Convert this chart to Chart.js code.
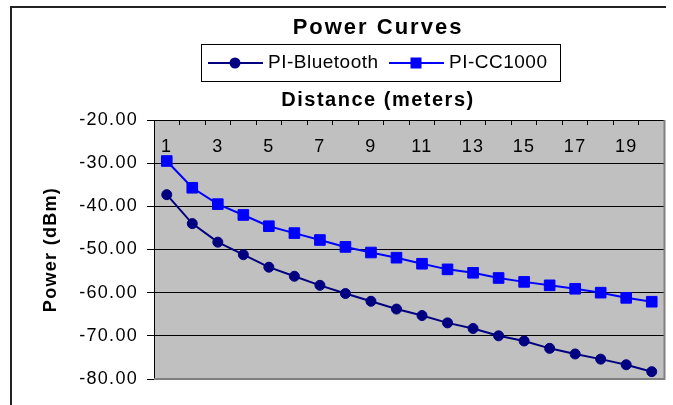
<!DOCTYPE html>
<html lang="en">
<head>
    <meta charset="UTF-8">
    <title>Power Curves</title>
<script src="https://cdn.jsdelivr.net/npm/chart.js@4.4.0/dist/chart.umd.min.js"></script>
<style>
    body { margin: 0; background: #fff; font-family: "Liberation Sans", Arial, sans-serif; }
    #wrap { position: relative; width: 673px; height: 405px; overflow: hidden; }
    #frame { position: absolute; left: 10px; top: 6px; width: 654px; height: 420px;
             border-left: 2px solid #222; border-top: 2px solid #222; }
    .txt { position: absolute; white-space: nowrap; color: #000; }
    #title { left: 378px; top: 16px; transform: translateX(-50%); font-size: 22px; line-height: 22px;
             font-weight: bold; letter-spacing: 2px; }
    #xtitle { left: 378px; top: 89px; transform: translateX(-50%); font-size: 20px; line-height: 20px;
              font-weight: bold; letter-spacing: 1.5px; }
    #legend { position: absolute; left: 201px; top: 44px; width: 360px; height: 38px;
              box-sizing: border-box; border: 1px solid #000; background: #fff; }
    .lg { position: absolute; top: 7px; font-size: 19px; line-height: 19px; letter-spacing: 0.5px; }
    .sym { position: absolute; top: 11px; }
</style>
</head>
<body>
<div id="wrap">
    <div id="frame"></div>
    <canvas id="myChart" width="673" height="405" style="position:absolute;left:0;top:0"></canvas>
    <div class="txt" id="title">Power Curves</div>
    <div id="legend">
        <svg class="sym" style="left:6px" width="55" height="14">
            <line x1="0" y1="7" x2="55" y2="7" stroke="#000080" stroke-width="2"/>
            <circle cx="27" cy="7" r="5.5" fill="#000080"/>
        </svg>
        <span class="lg" style="left:66px">PI-Bluetooth</span>
        <svg class="sym" style="left:187px" width="55" height="14">
            <line x1="0" y1="7" x2="55" y2="7" stroke="#0000FF" stroke-width="2"/>
            <rect x="21.5" y="1.5" width="11" height="11" fill="#0000FF"/>
        </svg>
        <span class="lg" style="left:247px">PI-CC1000</span>
    </div>
    <div class="txt" id="xtitle">Distance (meters)</div>
</div>
<script>
    // 데이터
    const distance = ['1', '2', '3', '4', '5', '6', '7', '8', '9', '10',
                      '11', '12', '13', '14', '15', '16', '17', '18', '19', '20'];
    const piBluetooth = [-37.3, -44.0, -48.3, -51.2, -54.1, -56.2, -58.3, -60.2, -62.0, -63.8,
                         -65.3, -67.0, -68.3, -70.0, -71.2, -72.9, -74.2, -75.4, -76.7, -78.3];
    const piCC1000 = [-29.5, -35.7, -39.5, -42.0, -44.6, -46.2, -47.8, -49.4, -50.7, -51.9,
                      -53.3, -54.6, -55.4, -56.6, -57.5, -58.3, -59.1, -60.0, -61.2, -62.1];
    const yMin = -80, yMax = -20, yStep = 10;

    const fontFam = '"Liberation Sans", Arial, sans-serif';

    // 회색 플롯 배경 + 오른쪽/아래 회색 테두리
    const plotBg = {
        id: 'plotBg',
        beforeDraw(chart) {
            const c = chart.ctx, a = chart.chartArea;
            c.letterSpacing = '1.3px'; // 엑셀 글자가 좀 넓어서
            c.save();
            c.fillStyle = '#C0C0C0';
            c.fillRect(a.left, a.top, a.right - a.left, a.bottom - a.top);
            c.restore();
        },
        beforeDatasetsDraw(chart) {
            const c = chart.ctx, a = chart.chartArea;
            c.save();
            c.strokeStyle = '#808080';
            c.lineWidth = 2;
            c.beginPath();
            c.moveTo(a.right, a.top);
            c.lineTo(a.right, a.bottom);
            c.lineTo(a.left, a.bottom);
            c.stroke();
            c.restore();
        }
    };

const ctx = document.getElementById('myChart').getContext('2d');
const myChart = new Chart(ctx, {
    type: 'line',
    data: {
        labels: distance,
        datasets: [{
            label: 'PI-Bluetooth',
            data: piBluetooth,
            borderColor: '#000080',
            backgroundColor: '#000080',
            borderWidth: 2,
            pointStyle: 'circle',
            pointRadius: 5,
            pointBorderWidth: 1,
            tension: 0
        }, {
            label: 'PI-CC1000',
            data: piCC1000,
            borderColor: '#0000FF',
            backgroundColor: '#0000FF',
            borderWidth: 2,
            pointStyle: 'rect',
            pointRadius: 7.5,
            pointBorderWidth: 1,
            tension: 0
        }]
    },
    options: {
        responsive: false,
        animation: false,
        layout: { padding: { left: 30, top: 100, right: 8, bottom: 26 } },
        plugins: {
            legend: { display: false },
            tooltip: { enabled: false }
        },
        scales: {
            x: {
                position: 'top',
                offset: true,
                ticks: {
                    autoSkip: false,
                    maxRotation: 0,
                    mirror: true, // 라벨을 플롯 안쪽으로
                    padding: 16,
                    color: '#000',
                    font: { family: fontFam, size: 18 },
                    callback: function(v, i) { return i % 2 === 0 ? this.getLabelForValue(v) : ''; }
                },
                grid: { offset: true, drawOnChartArea: false, tickLength: -5, tickColor: '#000' },
                border: { color: '#000', width: 1 },
                afterFit: function(s) { s.height = 20; }
            },
            y: {
                min: yMin,
                max: yMax,
                ticks: {
                    stepSize: yStep,
                    padding: 9,
                    color: '#000',
                    font: { family: fontFam, size: 18 },
                    callback: function(v) { return v.toFixed(2); }
                },
                grid: {
                    color: function(c) { return c.tick && c.tick.value === yMin ? '#808080' : '#000'; },
                    tickColor: '#000',
                    tickLength: 7
                },
                border: { color: '#000', width: 1 },
                title: {
                    display: true,
                    text: 'Power (dBm)',
                    color: '#000',
                    font: { family: fontFam, size: 18, weight: 'bold' },
                    padding: { top: 10, bottom: 0 }
                },
                afterFit: function(s) { s.width = 124; }
            }
        }
    },
    plugins: [plotBg]
});
</script>
</body>
</html>
